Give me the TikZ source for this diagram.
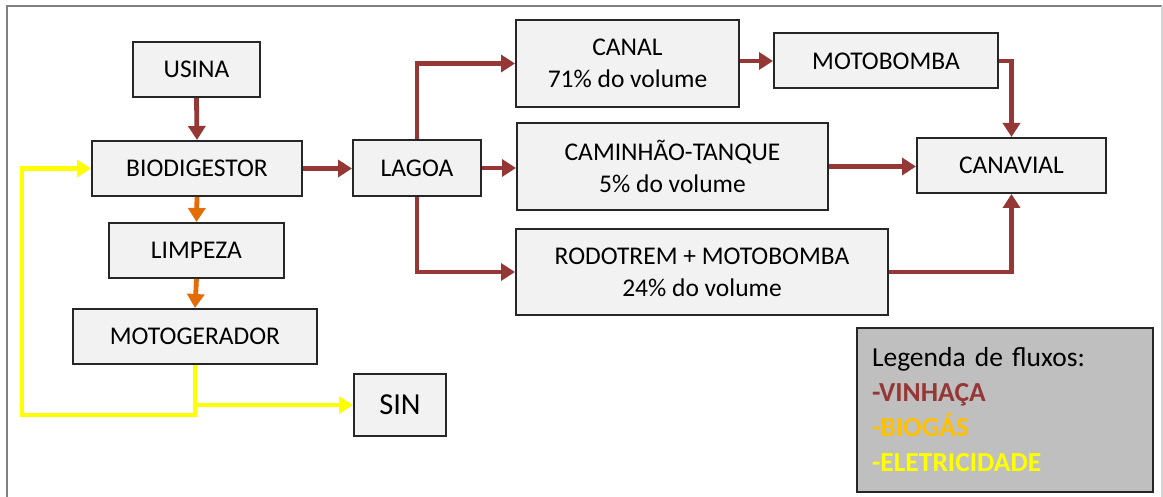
\documentclass[tikz,border=0pt]{standalone}
\usepackage{fontspec}
\setmainfont{Carlito}
\usetikzlibrary{arrows.meta}

\definecolor{vinho}{HTML}{953735}
\definecolor{laranja}{HTML}{E36C09}
\definecolor{amarelo}{HTML}{FFFF00}
\definecolor{ouro}{HTML}{FFC000}
\definecolor{caixa}{HTML}{F2F2F2}
\definecolor{borda}{HTML}{262626}
\definecolor{cinza}{HTML}{BFBFBF}
\definecolor{moldura}{HTML}{808080}
\definecolor{moldclara}{HTML}{D4D4D4}

\tikzset{
  stepbox/.style={draw=borda, fill=caixa, line width=2pt, inner sep=0pt,
    align=center, font=\fontsize{25.5}{32}\selectfont},
  flow/.style={line width=4.8pt, -{Triangle[length=14pt,width=17pt]}},
  vinflow/.style={flow, draw=vinho},
  gasflow/.style={flow, draw=laranja},
  elecflow/.style={flow, draw=amarelo},
  legendbox/.style={draw=borda, fill=cinza, line width=2.5pt, inner sep=0pt,
    align=left, font=\fontsize{27.5}{35}\selectfont}
}

\begin{document}
\begin{tikzpicture}[x=1pt, y=-1pt]
  \useasboundingbox (0,0) rectangle (1163,497);

  % outer frame
  \draw[moldura, line width=2pt] (7,510) -- (7,6) -- (1162,6);
  \draw[moldclara, line width=1.5pt] (1162,6) -- (1162,510);

  % process boxes
  \node[stepbox, minimum width=127, minimum height=55] (usina) at (196.5,69.5) {USINA};
  \node[stepbox, minimum width=210, minimum height=55] (bio) at (197,168.5) {BIODIGESTOR};
  \node[stepbox, minimum width=175, minimum height=55] (limp) at (196.5,250.5) {LIMPEZA};
  \node[stepbox, minimum width=244, minimum height=55] (motog) at (195,336.5) {MOTOGERADOR};
  \node[stepbox, minimum width=92, minimum height=62,
        font=\fontsize{30.5}{36}\selectfont] (sin) at (400,405) {SIN};
  \node[stepbox, minimum width=128, minimum height=56] (lagoa) at (417,168) {LAGOA};
  \node[stepbox, minimum width=223, minimum height=87] (canal) at (627.5,63.5)
       {CANAL\\71\% do volume};
  \node[stepbox, minimum width=311, minimum height=87] (cam) at (672.5,166.5)
       {CAMINHÃO-TANQUE\\5\% do volume};
  \node[stepbox, minimum width=372, minimum height=86] (rodo) at (702,272)
       {RODOTREM + MOTOBOMBA\\24\% do volume};
  \node[stepbox, minimum width=224, minimum height=55] (motob) at (886,61) {MOTOBOMBA};
  \node[stepbox, minimum width=189, minimum height=55] (canav) at (1011.5,165.5) {CANAVIAL};

  % legend
  \node[legendbox, minimum width=296, minimum height=164, text width=266] (leg) at (1005,410)
       {Legenda de fluxos:\\
        \textcolor{vinho}{\textbf{-VINHAÇA}}\\
        \textcolor{ouro}{\textbf{-BIOGÁS}}\\
        \textcolor{amarelo}{\textbf{-ELETRICIDADE}}};

  % vinasse flows
  \draw[vinflow] (usina.south) -- (bio.north);
  \draw[vinflow] (bio.east) -- (bio.east -| lagoa.west);
  \draw[vinflow] (lagoa.north) |- (canal.west);
  \draw[vinflow] (lagoa.east) -- (lagoa.east -| cam.west);
  \draw[vinflow] (lagoa.south) |- (rodo.west);
  \draw[vinflow] (canal.east |- motob.west) -- (motob.west);
  \draw[vinflow] (motob.east) -| (canav.north);
  \draw[vinflow] (cam.east) -- (cam.east -| canav.west);
  \draw[vinflow] (rodo.east) -| (canav.south);

  % biogas flows
  \draw[gasflow] (bio.south) -- (limp.north);
  \draw[gasflow] (limp.south) -- (motog.north);

  % electricity flows
  \coordinate (retorno) at (22,415);
  \draw[elecflow] (motog.south) |- (retorno) |- (bio.west);
  \draw[elecflow] (motog.south |- sin.west) -- (sin.west);
\end{tikzpicture}
\end{document}
